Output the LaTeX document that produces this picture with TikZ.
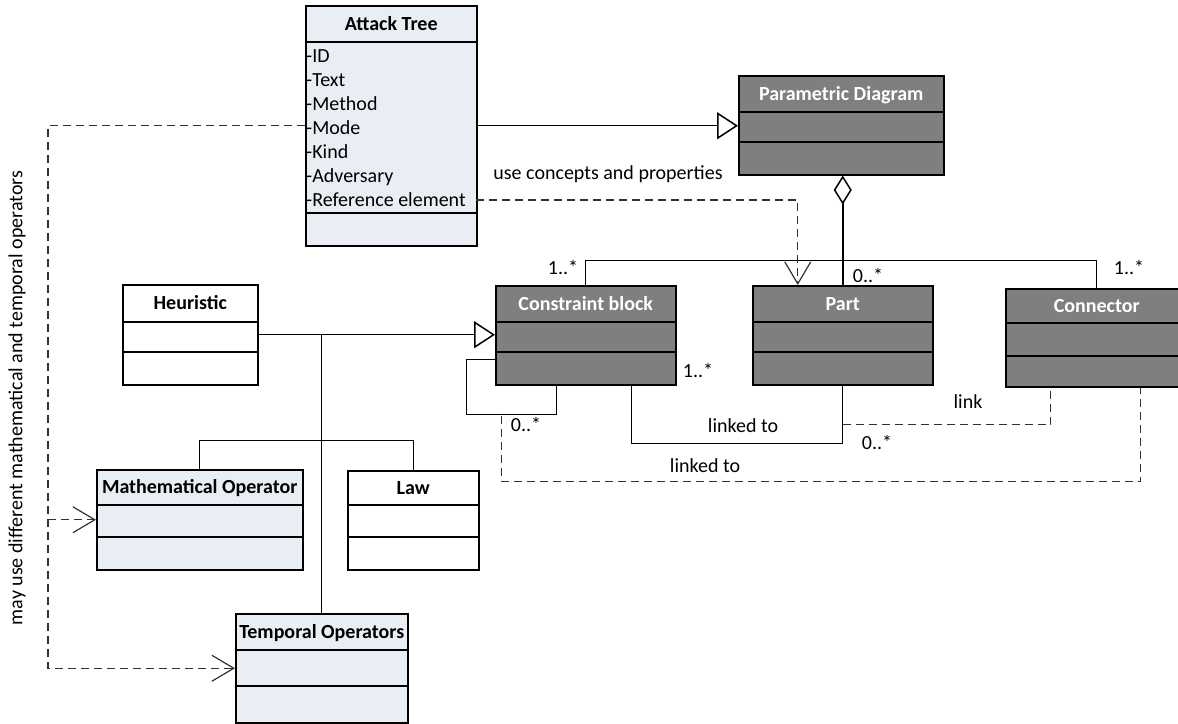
\documentclass[tikz,border=0pt]{standalone}
\usepackage{fontspec}
\setmainfont{Carlito}
\usetikzlibrary{arrows.meta,positioning}
\definecolor{boxblue}{RGB}{233,237,244}
\definecolor{boxgray}{RGB}{127,127,127}
\definecolor{dashgray}{RGB}{50,50,50}

\tikzset{
  cls/.style={draw, line width=1.5pt, anchor=north west, inner sep=0pt},
  ttl/.style={font=\fontsize{20}{24}\selectfont\bfseries, minimum height=37pt, inner sep=0pt, text height=13pt, text depth=0pt},
  sep/.style={line width=1.5pt},
  attr/.style={anchor=base west, inner sep=0pt},
  lbl/.style={inner sep=0pt, text height=13pt, text depth=0pt},
  assoc/.style={line width=1pt},
  gen/.style={line width=1pt, -{Triangle[open, length=21pt, width=27pt, line width=1.5pt]}},
  agg/.style={line width=1.5pt, {Diamond[open, length=29pt, width=18pt]}-},
  dep/.style={line width=1.2pt, dashgray, dash pattern=on 8pt off 5pt, -{Straight Barb[length=22pt, width=26pt, line width=1.2pt]}},
  deplink/.style={line width=1.2pt, dashgray, dash pattern=on 8pt off 5pt},
}

\begin{document}
\begin{tikzpicture}[x=1pt, y=-1pt, font=\fontsize{20}{24}\selectfont]
\useasboundingbox (0,0) rectangle (1178,723);

% attack tree
\node[cls, fill=boxblue, minimum width=171pt, minimum height=240pt] (at) at (305,5) {};
\node[ttl, below=0pt of at.north] (att) {Attack Tree};
\draw[sep] ([yshift=-37pt]at.north west) -- ([yshift=-37pt]at.north east)
           ([yshift=-208pt]at.north west) -- ([yshift=-208pt]at.north east);
\foreach \t [count=\i] in {ID,Text,Method,Mode,Kind,Adversary,Reference element}
  \node[attr] (atr\i) at (306,38+24*\i) {-\t};

% parametric diagram
\node[cls, fill=boxgray, minimum width=205pt, minimum height=99pt] (pd) at (738,75) {};
\node[ttl, text=white, below=0pt of pd.north] (pdt) {Parametric Diagram};
\draw[sep] ([yshift=-37pt]pd.north west) -- ([yshift=-37pt]pd.north east)
           ([yshift=-67pt]pd.north west) -- ([yshift=-67pt]pd.north east);

% constraint block
\node[cls, fill=boxgray, minimum width=180pt, minimum height=99pt] (cb) at (495,285) {};
\node[ttl, text=white, below=0pt of cb.north] (cbt) {Constraint block};
\draw[sep] ([yshift=-37pt]cb.north west) -- ([yshift=-37pt]cb.north east)
           ([yshift=-67pt]cb.north west) -- ([yshift=-67pt]cb.north east);

% part
\node[cls, fill=boxgray, minimum width=180pt, minimum height=99pt] (part) at (752,285) {};
\node[ttl, text=white, below=0pt of part.north] (partt) {Part};
\draw[sep] ([yshift=-37pt]part.north west) -- ([yshift=-37pt]part.north east)
           ([yshift=-67pt]part.north west) -- ([yshift=-67pt]part.north east);

% connector
\node[cls, fill=boxgray, minimum width=182pt, minimum height=98pt] (conn) at (1005,288) {};
\node[ttl, text=white, minimum height=35pt, below=0pt of conn.north] (connt) {Connector};
\draw[sep] ([yshift=-35pt]conn.north west) -- ([yshift=-35pt]conn.north east)
           ([yshift=-68pt]conn.north west) -- ([yshift=-68pt]conn.north east);

% heuristic
\node[cls, fill=white, minimum width=135pt, minimum height=100pt] (heur) at (122,284) {};
\node[ttl, below=0pt of heur.north] (heurt) {Heuristic};
\draw[sep] ([yshift=-38pt]heur.north west) -- ([yshift=-38pt]heur.north east)
           ([yshift=-68pt]heur.north west) -- ([yshift=-68pt]heur.north east);

% mathematical operator
\node[cls, fill=boxblue, minimum width=206pt, minimum height=100pt] (math) at (96,469) {};
\node[ttl, minimum height=36pt, below=0pt of math.north] (matht) {Mathematical Operator};
\draw[sep] ([yshift=-36pt]math.north west) -- ([yshift=-36pt]math.north east)
           ([yshift=-68pt]math.north west) -- ([yshift=-68pt]math.north east);

% law
\node[cls, fill=white, minimum width=131pt, minimum height=99pt] (law) at (347,470) {};
\node[ttl, minimum height=35pt, below=0pt of law.north] (lawt) {Law};
\draw[sep] ([yshift=-35pt]law.north west) -- ([yshift=-35pt]law.north east)
           ([yshift=-67pt]law.north west) -- ([yshift=-67pt]law.north east);

% temporal operators
\node[cls, fill=boxblue, minimum width=172pt, minimum height=109pt] (temp) at (235,613) {};
\node[ttl, below=0pt of temp.north] (tempt) {Temporal Operators};
\draw[sep] ([yshift=-37pt]temp.north west) -- ([yshift=-37pt]temp.north east)
           ([yshift=-73pt]temp.north west) -- ([yshift=-73pt]temp.north east);

% connectors
\draw[gen] (at.east) -- (at.east -| pd.west);
\draw[agg] (pd.south -| part.north) -- (part.north);
\draw[assoc] (cb.north) -- ++(0,-25) -| (conn.north);
\coordinate (atref) at (476,200);
\draw[dep] (atref) -| ([xshift=-45pt]part.north);

\draw[gen] (heur.east) -- (heur.east -| cb.west);
\draw[assoc] (heur.east -| temp.north) -- (temp.north);
\draw[assoc] (math.north) -- ++(0,-29) -| (law.north);

\draw[assoc] ([yshift=-24.5pt]cb.west) -- ++(-29,0) -- ++(0,55) -| ([xshift=-29pt]cb.south);
\draw[assoc] ([xshift=46pt]cb.south) -- ++(0,58) -| (part.south);
\draw[deplink] ([yshift=-39pt]part.south) -| ([xshift=-46pt]conn.south);
\draw[deplink] ([xshift=-84pt,yshift=-30pt]cb.south) -- ++(0,66) -| ([xshift=44pt]conn.south);

\coordinate (lft) at (48,125);
\draw[dep] (at.west) -| (temp.west -| lft) -- (temp.west);
\draw[dep] (math.west -| lft) -- (math.west);

% labels
\node[lbl] (uses) at (608,173) {use concepts and properties};
\node[lbl] (m1) at (563,268) {1..*};
\node[lbl] (m2) at (868,276) {0..*};
\node[lbl] (m3) at (1129,268) {1..*};
\node[lbl] (m4) at (698,371) {1..*};
\node[lbl] (m5) at (526,425) {0..*};
\node[lbl] (lk1) at (743,426) {linked to};
\node[lbl] (lk2) at (968,402) {link};
\node[lbl] (m6) at (877,443) {0..*};
\node[lbl] (lk3) at (705,466) {linked to};
\node[rotate=90] (note) at (17,398) {may use different mathematical and temporal operators};
\end{tikzpicture}
\end{document}
